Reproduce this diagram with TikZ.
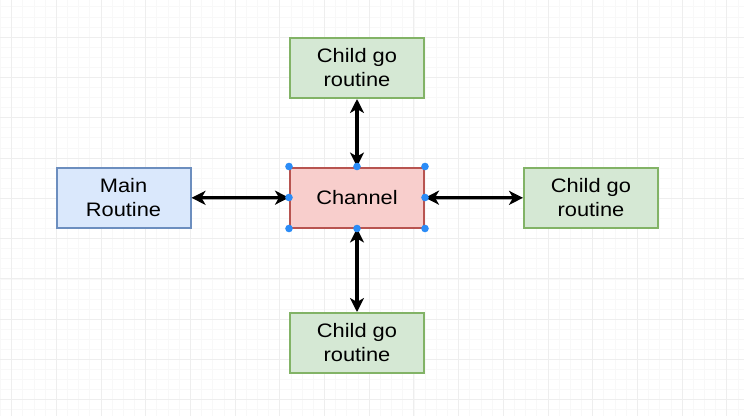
\documentclass[tikz,border=0pt]{standalone}
\usepackage{fontspec}
\setmainfont{Liberation Sans}[FakeStretch=1.12]
\usepackage{tikz}
\usetikzlibrary{arrows.meta}
\definecolor{mainfill}{HTML}{DAE8FC}
\definecolor{mainline}{HTML}{6C8EBF}
\definecolor{childfill}{HTML}{D5E8D4}
\definecolor{childline}{HTML}{82B366}
\definecolor{chanfill}{HTML}{F8CECC}
\definecolor{chanline}{HTML}{B85450}
\definecolor{gridminor}{HTML}{F8F8F8}
\definecolor{gridmajor}{HTML}{EEEEEE}
\definecolor{handleblue}{HTML}{2B8CF7}

\begin{document}
\begin{tikzpicture}[x=1pt,y=-1pt,
    every node/.style={draw,line width=2pt,minimum width=134pt,minimum height=60pt,inner sep=0pt,align=center,font=\fontsize{19.5}{24}\selectfont},
    mainbox/.style={fill=mainfill,draw=mainline},
    childbox/.style={fill=childfill,draw=childline},
    chanbox/.style={fill=chanfill,draw=chanline},
    link/.style={line width=3.2pt,{Stealth[length=14pt,width=14pt,inset=4pt]}-{Stealth[length=14pt,width=14pt,inset=4pt]}}]
        \useasboundingbox[fill=white] (0,0) rectangle (744,416);

        % background grid
        \foreach \gx in {0,...,66} \draw[gridminor,line width=0.6pt] ({0.325+11.175*\gx},0) -- ++(0,416);
        \foreach \gy in {0,...,40} \draw[gridminor,line width=0.6pt] (0,{6.775+10.075*\gy}) -- ++(744,0);
        \foreach \gx in {0,...,16} \draw[gridmajor,line width=0.8pt] ({11.5+44.7*\gx},0) -- ++(0,416);
        \foreach \gy in {0,...,9} \draw[gridmajor,line width=0.8pt] (0,{37+40.3*\gy}) -- ++(744,0);

        \node[mainbox] (main) at (123.5,198) {Main\\Routine};
        \node[chanbox] (chan) at (357,197.5) {Channel};
        \node[childbox] (top) at (357,68) {Child go\\routine};
        \node[childbox] (right) at (591,198) {Child go\\routine};
        \node[childbox] (bottom) at (357,343) {Child go\\routine};

        \path [link] (main) edge (chan);
        \path [link] (chan) edge (right);
        \path [link] (chan) edge (top);
        \path [link] (chan) edge (bottom);

        % selection handles
        \foreach \a in {north west,north,north east,east,south east,south,south west,west}
            \fill[handleblue] (chan.\a) circle (3.8pt);
    \end{tikzpicture}
\end{document}
